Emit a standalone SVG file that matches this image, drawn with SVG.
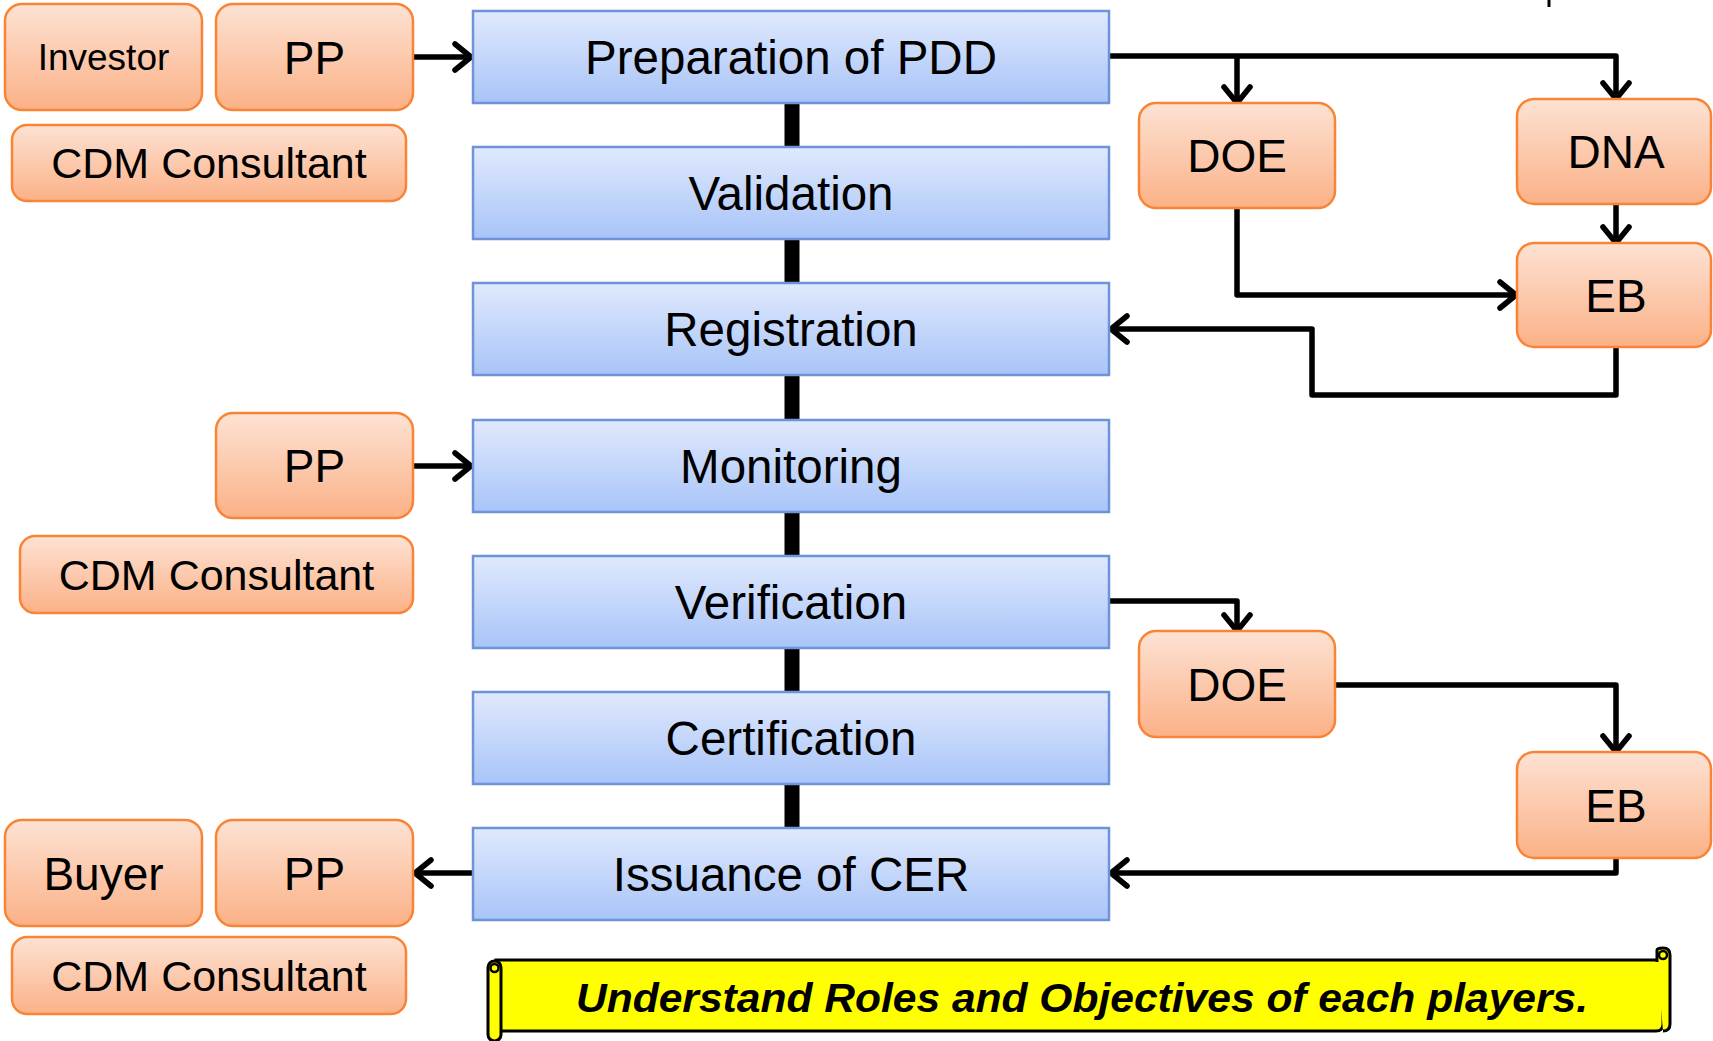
<svg xmlns="http://www.w3.org/2000/svg" width="1713" height="1041" viewBox="0 0 1713 1041">
<defs>
<linearGradient id="gBlue" x1="0" y1="0" x2="0" y2="1"><stop offset="0" stop-color="#e0e9fd"/><stop offset="1" stop-color="#a8c4f8"/></linearGradient>
<linearGradient id="gOrange" x1="0" y1="0" x2="0" y2="1"><stop offset="0" stop-color="#fde2d3"/><stop offset="1" stop-color="#fbb187"/></linearGradient>
<marker id="arr" markerUnits="userSpaceOnUse" viewBox="0 0 22 32" refX="19" refY="16" markerWidth="22" markerHeight="32" orient="auto">
<path d="M3,3 L19,16 L3,29" fill="none" stroke="#000" stroke-width="5.5" stroke-linecap="round" stroke-linejoin="round"/>
</marker>
<style>
.step rect{fill:url(#gBlue);stroke:#6f93d8;stroke-width:2.5}
.actor rect{fill:url(#gOrange);stroke:#f98436;stroke-width:2.5}
text{font-family:"Liberation Sans",Arial,sans-serif;fill:#000;text-anchor:middle}
.t47{font-size:47.5px}
.t46{font-size:46px}
.t42{font-size:43px}
.t37{font-size:37px}
.conn path{fill:none;stroke:#000;stroke-width:5.5;stroke-linejoin:round}
</style>
</defs>
<line x1="1549" y1="0" x2="1549" y2="7" stroke="#000" stroke-width="3"/>
<g class="conn" id="connectors">
<line x1="792" y1="100" x2="792" y2="830" stroke="#000" stroke-width="15"/>
<path d="M413,57 H471" marker-end="url(#arr)"/>
<path d="M1109,56 H1616 V99" marker-end="url(#arr)"/>
<path d="M1237,56 V103" marker-end="url(#arr)"/>
<path d="M1616,204 V243" marker-end="url(#arr)"/>
<path d="M1237,208 V295 H1516" marker-end="url(#arr)"/>
<path d="M1616,347 V395 H1312 V329 H1111" marker-end="url(#arr)"/>
<path d="M413,466 H471" marker-end="url(#arr)"/>
<path d="M1109,601 H1237 V631" marker-end="url(#arr)"/>
<path d="M1335,685 H1616 V752" marker-end="url(#arr)"/>
<path d="M1616,858 V873 H1111" marker-end="url(#arr)"/>
<path d="M473,873 H415" marker-end="url(#arr)"/>
</g>
<g id="prep" class="step"><rect x="473" y="11" width="636" height="92"/><text class="t47" x="791" y="74">Preparation of PDD</text></g>
<g id="validation" class="step"><rect x="473" y="147" width="636" height="92"/><text class="t47" x="791" y="210">Validation</text></g>
<g id="registration" class="step"><rect x="473" y="283" width="636" height="92"/><text class="t47" x="791" y="346">Registration</text></g>
<g id="monitoring" class="step"><rect x="473" y="420" width="636" height="92"/><text class="t47" x="791" y="483">Monitoring</text></g>
<g id="verification" class="step"><rect x="473" y="556" width="636" height="92"/><text class="t47" x="791" y="619">Verification</text></g>
<g id="certification" class="step"><rect x="473" y="692" width="636" height="92"/><text class="t47" x="791" y="755">Certification</text></g>
<g id="issuance" class="step"><rect x="473" y="828" width="636" height="92"/><text class="t47" x="791" y="891">Issuance of CER</text></g>
<g id="investor" class="actor"><rect x="5" y="4" width="197" height="106" rx="17"/><text class="t37" x="103.5" y="70">Investor</text></g>
<g id="pp1" class="actor"><rect x="216" y="4" width="197" height="106" rx="17"/><text class="t46" x="314.5" y="74">PP</text></g>
<g id="cdm1" class="actor"><rect x="12" y="125" width="394" height="76" rx="15"/><text class="t42" x="209" y="178">CDM Consultant</text></g>
<g id="doe1" class="actor"><rect x="1139" y="103" width="196" height="105" rx="17"/><text class="t46" x="1237" y="172">DOE</text></g>
<g id="dna" class="actor"><rect x="1517" y="99" width="194" height="105" rx="17"/><text class="t46" x="1616" y="168">DNA</text></g>
<g id="eb1" class="actor"><rect x="1517" y="243" width="194" height="104" rx="17"/><text class="t46" x="1616" y="312">EB</text></g>
<g id="pp2" class="actor"><rect x="216" y="413" width="197" height="105" rx="17"/><text class="t46" x="314.5" y="482">PP</text></g>
<g id="cdm2" class="actor"><rect x="20" y="536" width="393" height="77" rx="15"/><text class="t42" x="216.5" y="590">CDM Consultant</text></g>
<g id="doe2" class="actor"><rect x="1139" y="631" width="196" height="106" rx="17"/><text class="t46" x="1237" y="701">DOE</text></g>
<g id="eb2" class="actor"><rect x="1517" y="752" width="194" height="106" rx="17"/><text class="t46" x="1616" y="822">EB</text></g>
<g id="buyer" class="actor"><rect x="5" y="820" width="197" height="106" rx="17"/><text class="t46" x="103.5" y="890">Buyer</text></g>
<g id="pp3" class="actor"><rect x="216" y="820" width="197" height="106" rx="17"/><text class="t46" x="314.5" y="890">PP</text></g>
<g id="cdm3" class="actor"><rect x="12" y="937" width="394" height="77" rx="15"/><text class="t42" x="209" y="991">CDM Consultant</text></g>
<g id="banner">
<path d="M496,960 H1663 V1024 Q1663,1031 1656,1031 H496 Z" fill="#ffff00" stroke="#000" stroke-width="3"/>
<path d="M1657,962 V950 Q1657,948 1663,948 Q1670,948 1670,955 V1024 Q1670,1031 1663,1031" fill="#ffff00" stroke="#000" stroke-width="3"/>
<circle cx="1663" cy="955" r="4" fill="none" stroke="#000" stroke-width="2.5"/>
<rect x="488" y="961" width="13" height="80" rx="6.5" fill="#ffff00" stroke="#000" stroke-width="3"/>
<circle cx="494.5" cy="968" r="4" fill="none" stroke="#000" stroke-width="2.5"/>
<text x="1082" y="1012" font-size="41" font-weight="bold" font-style="italic" textLength="1012" lengthAdjust="spacingAndGlyphs">Understand Roles and Objectives of each players.</text>
</g>
</svg>
